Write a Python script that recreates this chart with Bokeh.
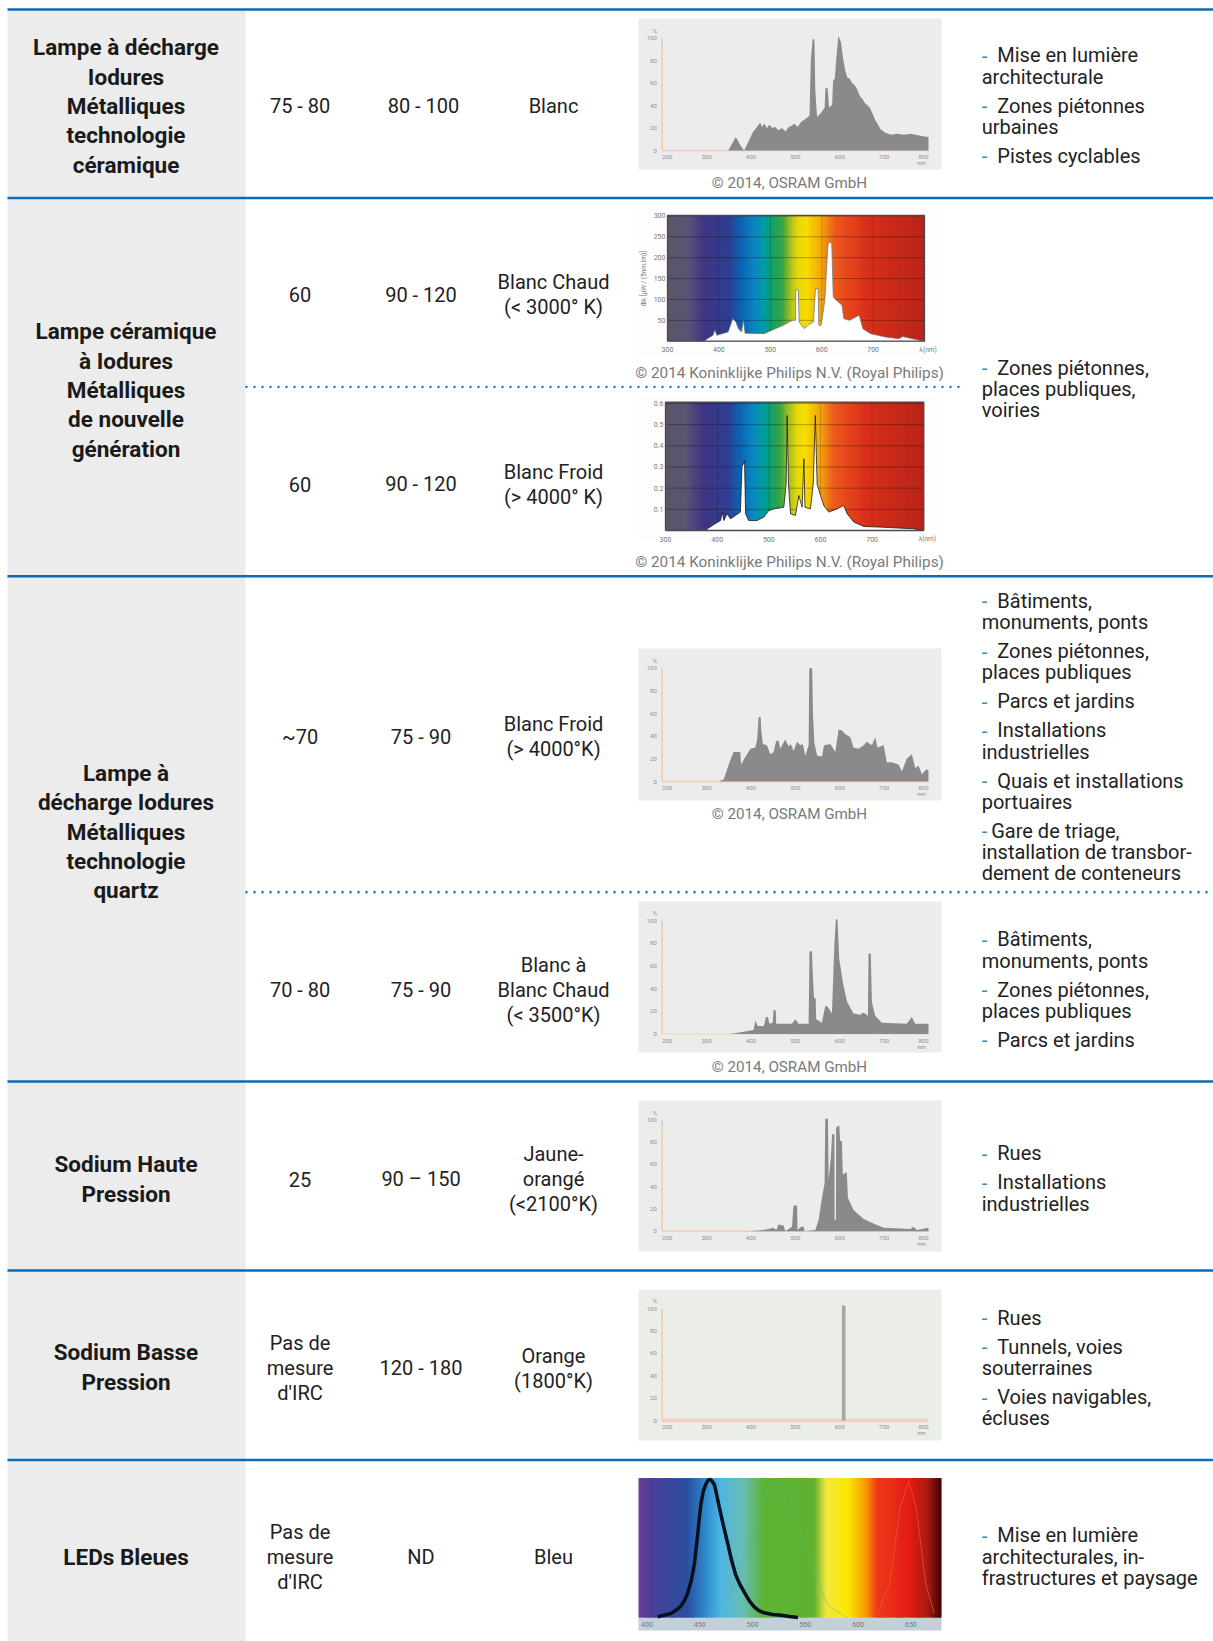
import numpy as np
from bokeh.plotting import figure
from bokeh.models import Range1d, ColumnDataSource
from bokeh.core.properties import value
from bokeh.embed import file_html
from bokeh.resources import INLINE

# ---------- table text ----------
row_names = [
    ["Lampe à décharge", "Iodures", "Métalliques", "technologie", "céramique"],
    ["Lampe céramique", "à Iodures", "Métalliques", "de nouvelle", "génération"],
    ["Lampe à", "décharge Iodures", "Métalliques", "technologie", "quartz"],
    ["Sodium Haute", "Pression"],
    ["Sodium Basse", "Pression"],
    ["LEDs Bleues"],
]
col_irc = [["75 - 80"], ["60"], ["60"], ["~70"], ["70 - 80"], ["25"],
           ["Pas de", "mesure", "d'IRC"], ["Pas de", "mesure", "d'IRC"]]
col_eff = [["80 - 100"], ["90 - 120"], ["90 - 120"], ["75 - 90"], ["75 - 90"],
           ["90 – 150"], ["120 - 180"], ["ND"]]
col_tone = [["Blanc"], ["Blanc Chaud", "(< 3000° K)"], ["Blanc Froid", "(> 4000° K)"],
            ["Blanc Froid", "(> 4000°K)"], ["Blanc à", "Blanc Chaud", "(< 3500°K)"],
            ["Jaune-", "orangé", "(<2100°K)"], ["Orange", "(1800°K)"], ["Bleu"]]
uses = [
    [["Mise en lumière", "architecturale"], ["Zones piétonnes", "urbaines"], ["Pistes cyclables"]],
    [["Zones piétonnes,", "places publiques,", "voiries"]],
    [["Bâtiments,", "monuments, ponts"], ["Zones piétonnes,", "places publiques"],
     ["Parcs et jardins"], ["Installations", "industrielles"],
     ["Quais et installations", "portuaires"],
     ["Gare de triage,", "installation de transbor-", "dement de conteneurs"]],
    [["Bâtiments,", "monuments, ponts"], ["Zones piétonnes,", "places publiques"], ["Parcs et jardins"]],
    [["Rues"], ["Installations", "industrielles"]],
    [["Rues"], ["Tunnels, voies", "souterraines"], ["Voies navigables,", "écluses"]],
    [["Mise en lumière", "architecturales, in-", "frastructures et paysage"]],
]
credit_osram = "© 2014, OSRAM GmbH"
credit_philips = "© 2014 Koninklijke Philips N.V. (Royal Philips)"

# ---------- spectra: wavelength (nm) and relative value ----------
ticks_nm_osram = [200, 300, 400, 500, 600, 700, 800]
ticks_pct_osram = [0, 20, 40, 60, 80, 100]

s1_nm = [349, 366, 379, 385, 404, 412, 421, 425, 430, 436, 442, 448, 455, 462, 470, 478, 485, 492, 498, 505, 512, 518, 523,
         532, 535, 539, 543, 545, 549, 557, 566, 568, 573, 576, 583, 585, 589, 592, 597, 603, 608, 612, 617, 622, 628, 634,
         640, 646, 651, 657, 663, 668, 675, 680, 685, 692, 702, 715, 728, 745, 760, 770, 785, 800]
s1_pct = [0, 12, 3, 0, 16, 20, 25, 21, 24, 20, 23, 20, 21, 18, 20, 17, 21, 22, 24, 21, 25, 27, 28,
          31, 80, 99, 99, 55, 30, 33, 38, 56, 55, 38, 41, 62, 64, 80, 102, 96, 81, 72, 65, 64, 60, 58,
          54, 48, 46, 42, 40, 38, 32, 27, 24, 19, 16, 14, 15, 14, 15, 14, 13, 12]

s4_nm = [327.5, 339, 350, 361, 376, 378, 385, 399, 410, 414, 417.5, 422, 423.5, 427, 436, 444, 451, 457, 462.5, 466,
         477.5, 485, 490, 496, 504, 511, 517, 522.5, 530, 531.5, 538, 540, 543, 549, 560, 565, 579, 590, 597.5, 605,
         612.5, 624, 631, 642.5, 654, 661, 672.5, 680, 685, 699, 706, 717.5, 732.5, 740, 751, 762.5, 770, 777.5, 785, 796, 800]
s4_pct = [0, 2, 15, 26, 26, 15, 20, 29, 30, 37, 57, 57, 45, 33, 32, 24, 26, 36, 36, 29,
          37, 31, 33, 27, 35, 32, 33, 23, 32, 100, 100, 57, 34, 23, 22, 32, 33, 26, 46, 45,
          42, 39, 30, 29, 32, 35, 32, 39, 30, 32, 17, 17, 15, 9, 20, 24, 12, 14, 6.5, 11, 9.5]

s5_nm = [354, 406, 410, 415, 429, 434, 438.5, 441.5, 449, 451, 456, 457, 492.5, 500, 507.5, 530, 532, 537.5, 539, 542,
         546, 547, 560, 567.5, 573, 582.5, 588, 591.5, 595, 599, 607, 616, 631, 646, 654, 663.5, 665, 670, 672.5, 680,
         695, 751, 762.5, 770, 800]
s5_pct = [0, 3.5, 12, 7, 7, 15, 15, 9, 10, 21, 21, 9, 9, 13, 9, 9, 73, 73, 56, 32,
          31, 13, 10, 25, 24, 18, 79, 101, 101, 66, 46, 29, 18, 17, 19, 16, 71, 71, 28, 16,
          10, 9, 15, 9, 9]

s6_nm = [395, 429, 451, 457, 462.5, 474, 477.5, 492.5, 496, 504, 505, 513, 519, 521, 545, 552.5, 560, 566, 567.5, 573.5,
         575, 580, 583, 588, 588.5, 591.5, 592, 599, 601, 605, 607, 616, 618.5, 631, 654, 676, 699, 759, 766, 774, 800]
s6_pct = [0, 1, 3, 1, 6, 5, 0, 4, 23, 23, 1, 4, 4, 0, 1, 10, 30, 43, 101, 101,
          46, 66, 87, 87, 10, 10, 93, 95, 81, 81, 51, 53, 30, 19, 11, 7, 3, 2, 4, 1, 3]

s7_nm = [609]
s7_pct = [103]

ticks_nm_philips = [300, 400, 500, 600, 700]
s2_ticks = [50, 100, 150, 200, 250, 300]
s2_nm = [374, 388.6, 392, 396, 418, 427, 433, 438, 444, 447.6, 451, 488, 510, 525, 543.5, 549, 549.5, 554.6, 556, 566,
         573, 584, 588, 593, 594.5, 599, 606, 612, 615, 619.5, 622.5, 628.4, 639.5, 643, 654, 673, 680, 695, 724, 750,
         757.6, 776, 800]
s2_val = [3, 14, 27, 14, 22, 54, 46, 30, 22, 50, 19, 18, 30, 38, 50, 50, 123, 123, 46, 30,
          38, 46, 126, 126, 38, 38, 98, 230, 238, 234, 106, 98, 86, 54, 50, 62, 30, 18, 10, 6,
          11, 6, 0]

s3_ticks = [0.1, 0.2, 0.3, 0.4, 0.5, 0.6]
s3_nm = [381, 393.5, 406.5, 410, 413, 419, 426, 435.5, 445, 448, 453, 455, 461, 477, 490, 500, 510, 529, 533.5, 535.5,
         538, 542, 551.6, 558, 564.5, 568, 570, 580.6, 586, 590, 593.5, 600, 606.5, 616, 632, 645, 651.6, 664.5, 684, 716,
         780.6, 797]
s3_val = [.008, .028, .047, .087, .047, .079, .055, .071, .087, .30, .33, .079, .047, .047, .063, .094, .102, .11, .22, .543,
          .22, .079, .071, .165, .11, .339, .11, .102, .22, .543, .22, .165, .118, .087, .102, .118, .079, .04, .019, .016,
          .008, 0]

ticks_nm_led = [400, 450, 500, 550, 600, 650]
led_nm = [410, 418, 423, 428, 432, 436, 438.5, 442, 445, 448, 451, 453.5, 456, 458, 460, 462, 464, 466, 468.5, 472,
          476.4, 480, 484, 488, 492, 497, 501.6, 506, 511, 519, 527, 535, 543]
led_blue = [.5, 2, 3, 5.5, 8, 13, 17.5, 27, 39, 60, 82, 92, 97, 99.5, 100, 98.5, 96, 89, 80, 68,
            54, 42, 31, 24, 18.5, 12, 7.7, 5, 3.4, 2.2, 1.7, .8, 0]
led_green_nm = [458, 480, 500, 512, 520, 535, 552, 572, 590]
led_green = [0, 20, 60, 90, 98, 90, 45, 8, 0]
led_red_nm = [618, 630, 640, 648, 655, 664, 672]
led_red = [2, 25, 80, 99, 80, 25, 3]

# gradient stops (nm, colour) for the spectrum backgrounds
rainbow_nm = [300, 340, 374, 422, 444, 470, 488, 502, 525, 540, 555, 572, 598, 627, 686, 800]
rainbow_col = ["#5c5568", "#5a5575", "#3f3583", "#2f3f93", "#0d62b2", "#0a86c0", "#009aa8", "#0aa070", "#3fa542",
               "#a6c020", "#e8d808", "#f7dd00", "#f3a90a", "#ee5a1d", "#d8301a", "#b7241b"]
led_bg_nm = [392, 407, 438.5, 457.5, 470, 492, 511, 558.5, 571, 590, 606, 618.4, 650, 666, 679]
led_bg_col = ["#6a3a93", "#47409a", "#2a4fa0", "#2f8fcf", "#4fb5e5", "#69bdb0", "#5cb335", "#62b132",
              "#f3e83a", "#fbe900", "#f9a400", "#ee3a1a", "#e31a14", "#a81a10", "#450505"]

# ---------- styles ----------
FONT = value("Roboto")
BLUE = "#0b6cb6"
DASH = "#2f86c6"
INK = "#222222"
GREY = "#7a7a7a"
AREA = "#8a8a8a"
TICK = "#8e8e8e"

p = figure(width=1213, height=1641, x_range=Range1d(0, 1213), y_range=Range1d(1641, 0),
           output_backend="svg", toolbar_location=None, min_border=0, outline_line_color=None)
p.xaxis.visible = False
p.yaxis.visible = False
p.grid.visible = False
p.background_fill_color = "white"
p.border_fill_color = "white"


def label(x, y, s, size, color=INK, align="left", bold=False, api=None, angle=0):
    (api or p).text(x=[x], y=[y], text=[s], text_font=FONT, text_font_size=f"{size}px",
                    text_color=color, text_align=align, text_baseline="middle",
                    text_font_style="bold" if bold else "normal", angle=angle)


def stack(x, cy, lines, size, gap, **kw):
    top = cy - gap * (len(lines) - 1) / 2
    for i, s in enumerate(lines):
        label(x, top + i * gap, s, size, **kw)


def hexrgb(c):
    return np.array([int(c[i:i + 2], 16) for i in (1, 3, 5)], dtype=float)


def gradient(api, stops, cols, y0, y1, step):
    rgb = np.array([hexrgb(c) for c in cols])
    edges = np.arange(stops[0], stops[-1], step)
    fill = []
    for e in edges + step / 2:
        v = [np.interp(e, stops, rgb[:, k]) for k in range(3)]
        fill.append("#%02x%02x%02x" % tuple(int(round(a)) for a in v))
    right = np.minimum(edges + step * 1.7, stops[-1])
    api.quad(left=edges, right=right, bottom=y0, top=y1, fill_color=fill, line_color=None)


# grey name column
p.quad(left=[7], right=[245], top=[9], bottom=[1641], fill_color="#ececec", line_color=None)

# ---------- OSRAM style panels ----------
def osram_panel(top, bottom, y0_px, y100_px, nm, pct, axis_col, credit_y, bg="#ececec", fill=AREA, bar=False):
    p.quad(left=[638], right=[941], top=[top], bottom=[bottom], fill_color=bg, line_color=None)
    sub = p.subplot(x_source=Range1d(200, 800), y_source=Range1d(0, 100),
                    x_target=Range1d(661.6, 928), y_target=Range1d(y0_px, y100_px))
    sub.line(x=[200, 200], y=[0, 92], line_color="#f2cfa6", line_width=1.6)
    sub.line(x=[200, 200], y=[92, 100], line_color="#c8c8c8", line_width=1.2)
    if bar:
        sub.line(x=[200, 800], y=[0, 0], line_color="#f3cfc5", line_width=3.5)
        sub.vbar(x=nm, top=pct, bottom=0, width=8, fill_color="#a6a7a4", line_color=None)
    else:
        sub.line(x=[200, 800], y=[0, 0], line_color=axis_col, line_width=1.6)
        sub.varea(x=nm, y1=np.zeros(len(nm)), y2=pct, fill_color=fill)
    src = ColumnDataSource(dict(x=[188] * len(ticks_pct_osram), y=ticks_pct_osram,
                                t=[str(v) for v in ticks_pct_osram]))
    sub.text(x="x", y="y", text="t", source=src, text_font=FONT, text_font_size="6px", text_color=TICK,
             text_align="right", text_baseline="middle")
    src = ColumnDataSource(dict(x=ticks_nm_osram, y=[-6] * len(ticks_nm_osram),
                                t=[str(v) for v in ticks_nm_osram],
                                a=["left"] + ["center"] * 5 + ["right"]))
    sub.text(x="x", y="y", text="t", source=src, text_font=FONT, text_font_size="6px", text_color=TICK,
             text_align="a", text_baseline="middle")
    label(794, -11, "nm", 6, color=TICK, align="right", api=sub)
    label(184, 107, "%", 6, color=TICK, align="center", api=sub)
    if credit_y:
        label(789, credit_y, credit_osram, 15.2, color=GREY, align="center")


osram_panel(18, 169, 150, 37.5, s1_nm, s1_pct, "#efc6bc", 182)
osram_panel(648, 800, 781, 667.7, s4_nm, s4_pct, "#f2d2b4", 813)
osram_panel(901, 1052, 1033.5, 920, s5_nm, s5_pct, "#e9e0bf", 1066)
osram_panel(1100, 1251, 1230.7, 1119.3, s6_nm, s6_pct, "#f2d2b4", None)
osram_panel(1289, 1440, 1420, 1308.3, s7_nm, s7_pct, "#f3cfc5", None, bg="#ebede9", bar=True)

# ---------- Philips panels ----------
def philips_panel(top, bottom, px0, px1, y0_px, ytop_px, ymax, nm, val, ticks, tick_fmt, outline, credit_y):
    p.quad(left=[638], right=[941], top=[top], bottom=[bottom], fill_color="#fdfdfd", line_color=None)
    sub = p.subplot(x_source=Range1d(300, 800), y_source=Range1d(0, ymax),
                    x_target=Range1d(px0, px1), y_target=Range1d(y0_px, ytop_px))
    gradient(sub, rainbow_nm, rainbow_col, 0, ymax, 2)
    sub.segment(x0=[300] * len(ticks), x1=[800] * len(ticks), y0=ticks, y1=ticks,
                line_color="#000000", line_alpha=0.3, line_width=1)
    sub.segment(x0=ticks_nm_philips[1:], x1=ticks_nm_philips[1:], y0=[0] * 4, y1=[ymax] * 4,
                line_color="#000000", line_alpha=0.15, line_width=1)
    sub.varea(x=nm, y1=np.zeros(len(nm)), y2=val, fill_color="white")
    sub.line(x=nm, y=val, line_color=outline, line_alpha=0.75, line_width=1)
    sub.line(x=[300, 800, 800, 300, 300], y=[0, 0, ymax, ymax, 0], line_color="#4a4a4a", line_width=1.3)
    src = ColumnDataSource(dict(x=[296] * len(ticks), y=ticks, t=[tick_fmt % v for v in ticks]))
    sub.text(x="x", y="y", text="t", source=src, text_font=FONT, text_font_size="7px", text_color="#777777",
             text_align="right", text_baseline="middle")
    src = ColumnDataSource(dict(x=ticks_nm_philips, y=[-0.07 * ymax] * 5, t=[str(v) for v in ticks_nm_philips]))
    sub.text(x="x", y="y", text="t", source=src, text_font=FONT, text_font_size="7px", text_color="#777777",
             text_align="center", text_baseline="middle")
    label(790, -0.07 * ymax, "λ(nm)", 6.5, color="#777777", align="left", api=sub)
    label(789, credit_y, credit_philips, 15.3, color=GREY, align="center")


philips_panel(207, 358, 667, 924, 340.7, 215, 301, s2_nm, s2_val, s2_ticks, "%d", "#777777", 372)
philips_panel(393, 540, 665, 923.3, 530, 401.7, 0.606, s3_nm, s3_val, s3_ticks, "%.1f", "#111111", 561)
label(643, 278, "Φλ [µW / (5nm.lm)]", 6.5, color="#777777", align="center", angle=np.pi / 2)

# ---------- LED panel ----------
p.quad(left=[638], right=[941], top=[1617], bottom=[1630], fill_color="#c3d0d8", line_color=None)
led = p.subplot(x_source=Range1d(392, 679), y_source=Range1d(0, 100),
                x_target=Range1d(638, 941), y_target=Range1d(1617, 1479))
gradient(led, led_bg_nm, led_bg_col, 0, 101, 1)
led.line(x=led_green_nm, y=led_green, line_color="#57b59a", line_alpha=0.45, line_width=1)
led.line(x=led_red_nm, y=led_red, line_color="#f2553c", line_alpha=0.7, line_width=1)
led.line(x=led_nm, y=led_blue, line_color="#05101f", line_width=3.5)
src = ColumnDataSource(dict(x=ticks_nm_led, y=[-5] * 6, t=[str(v) for v in ticks_nm_led]))
led.text(x="x", y="y", text="t", source=src, text_font=FONT, text_font_size="7px", text_color="#6f7a82",
         text_align="center", text_baseline="middle")

# ---------- rules ----------
rule_y = [9, 197.5, 575.7, 1081, 1270, 1459.5]
p.segment(x0=[7] * 6, x1=[1213] * 6, y0=rule_y, y1=rule_y, line_color=BLUE, line_width=2.6)
p.segment(x0=[245, 245], x1=[960, 1209], y0=[386.4, 891.8], y1=[386.4, 891.8],
          line_color=BLUE, line_width=2.4, line_dash="2 6")

# ---------- text cells ----------
for cy, lines in zip([105.5, 389.5, 831, 1178.5, 1366.5, 1556], row_names):
    stack(125.5, cy, lines, 22.5, 29.4, bold=True, color="#1a1a1a", align="center")

row_cy = [105, 294, 483.5, 736, 989, 1178.5, 1367.5, 1556]
for i, (cy, a, b, c) in enumerate(zip(row_cy, col_irc, col_eff, col_tone)):
    stack(299.6, cy, a, 20, 25, align="center")
    stack(423 if i == 0 else 420.5, cy, b, 20, 25, align="center")
    stack(553, cy, c, 20, 25, align="center")

use_cy = [105, 388.5, 736.5, 989, 1178, 1367.5, 1556]
LINE = 21.2
PARA = 29
for cy, bullets in zip(use_cy, uses):
    total = sum(LINE * (len(b) - 1) for b in bullets) + PARA * (len(bullets) - 1)
    y = cy - total / 2
    for b in bullets:
        label(981.2, y, "-", 20, color=DASH)
        indent = 9.5 if b[0].startswith("Gare") else 15.6
        label(981.2 + indent, y, b[0], 20)
        for i, s in enumerate(b[1:], 1):
            label(981.2, y + i * LINE, s, 20)
        y += LINE * (len(b) - 1) + PARA

open("out.html", "w").write(file_html(p, INLINE))
